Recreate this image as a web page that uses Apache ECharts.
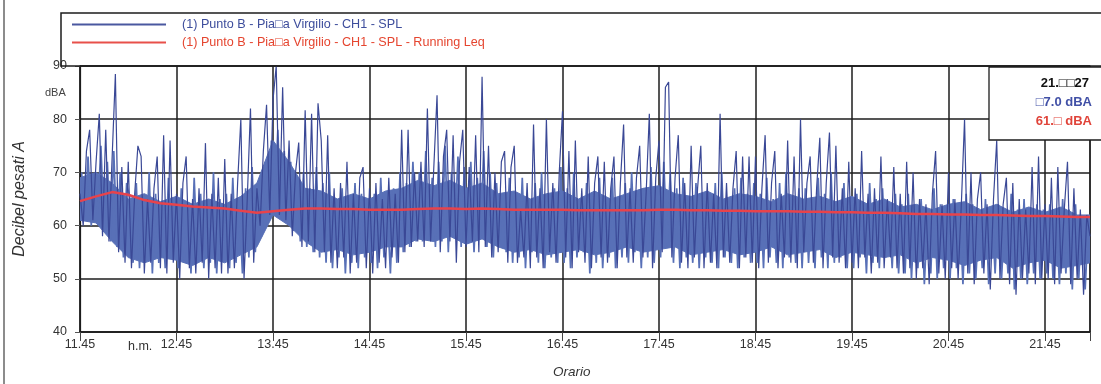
<!DOCTYPE html>
<html>
<head>
<meta charset="utf-8">
<script src="https://cdn.jsdelivr.net/npm/echarts@6/dist/echarts.min.js"></script>
<style>
html,body{margin:0;padding:0;background:#fff;}
#chart{width:1101px;height:384px;}
</style>
</head>
<body>
<div id="chart"></div>
<script>
// ---- DATA ----
const tickLabels = ['11.45','12.45','13.45','14.45','15.45','16.45','17.45','18.45','19.45','20.45','21.45'];
const seriesNames = ['(1) Punto B - Pia\u25A1a Virgilio - CH1 - SPL', '(1) Punto B - Pia\u25A1a Virgilio - CH1 - SPL - Running Leq'];
const endMinute = 628;            // minutes after 11.45 at the right edge
const splStepMin = 2;             // each SPL array: one sample every 2 minutes
const bandStepMin = 10;           // core band / Leq every 10 minutes

// SPL (dBA) at even minutes after 11.45 (0, 2, 4 ...)
const splEven = [
  66,60,74,78,61,72,81,58,78,57,73,88.5,55,71,53,
  72,52,66,75,73,51,65,53,67,73,52,77,51,76,53,
  66,50,68,73,52,65,51,67,53,75.5,50,66,52,69,51,
  72.5,51,66,52,68,80,50,65,82,53,67,60,74,82.7,62,
  83.6,90,62,86,61,76,58,70,75.6,56,81.7,57,81,55,83,
  76,55,77,53,67,52,68,54,72,51,66,53,69,71,52,
  67,51,68,53,65,52,69,54,66,53,78,55,78,56,70,
  57,72,56,82,57,71,84.5,55,73,78,57,77,53,72,78,
  56,71,57,77,55,88,56,75,54,70,55,72,74,53,71,
  75,53,63,54,68,52,79,54,67,52,80,55,68,53,70,
  81.5,54,74,52,76,55,67,53,73,52,68,73,54,72,53,
  67,73,52,68,79,54,67,53,69,75,54,66,81,52,69,
  76,55,86,87,54,69,77,53,68,52,75,54,67,75,52,
  68,53,66,52,81,54,68,53,67,74,52,73,54,73,53,
  73,52,67,77,53,68,74,52,66,54,76,53,73,52,80,
  55,68,73,53,67,76.5,52,68,77.5,54,75,53,67,52,72,
  53,67,52,74,54,66,51,67,53,73,52,65,54,71,52,
  66,51,72,52,70,50,65,52,64,49,66,74,51,64,50,
  70,52,65,50,64,80,51,70,49,65,70,51,64,48,65,
  76,50,64,69,49,68,47,65,50,63,51,71,49,73,50,
  64,50,69,49,71,51,63,72,49,67,50,63,47,62,58
];
// SPL (dBA) at odd minutes after 11.45 (1, 3, 5 ...)
const splOdd = [
  70,61,73,60,69,62,75,59,72,57,74,56,70,54,68,
  65,53,68,52,64,54,70,51,66,53,63,52,69,54,65,
  52,67,53,64,51,69,54,66,52,63,53,70,51,65,54,
  66,52,69,53,64,51,67,54,71,55,65,58,72,62,76,
  63,78,62,74,61,72,59,68,57,70,56,67,55,71,54,
  68,53,70,52,65,54,67,51,64,53,68,52,66,54,65,
  53,66,52,69,54,64,51,67,53,70,55,68,56,72,57,
  70,57,74,58,69,56,72,57,75,55,70,58,73,56,71,
  57,72,55,69,58,74,56,70,54,68,57,66,55,69,53,
  66,54,69,52,65,55,68,53,70,52,64,54,67,53,71,
  53,67,52,70,54,65,55,68,51,66,53,69,52,64,54,
  69,52,65,54,68,53,70,55,66,52,67,54,71,53,65,
  54,72,56,70,53,67,52,69,54,65,53,68,52,66,54,
  65,53,68,52,70,54,64,53,67,52,69,54,66,53,68,
  53,66,52,69,54,65,53,68,52,70,54,64,53,67,52,
  67,53,65,52,69,54,66,52,70,53,64,54,68,52,65,
  52,66,54,64,51,68,53,65,52,67,54,63,52,66,51,
  64,51,66,50,63,52,65,49,62,51,67,50,64,52,63,
  50,65,52,63,49,66,51,64,50,62,52,65,49,63,51,
  64,50,62,51,66,48,63,50,65,49,62,51,64,50,63,
  51,64,50,62,49,65,51,63,48,64,50,62,48,61
];

// dense core of the SPL trace (lower / upper edge), every 10 minutes, last at 628
const bandLow = [
  61,60.5,57,54,53,54,53.5,52.5,54,53,
  54.5,56,62,60,57,55,55.5,54.5,55,56,
  56,57.5,57,58,56.5,57.5,56,55,55.5,54.5,
  55,55.5,54.5,55,56,55,55.5,56,54.5,55,
  55.5,54.5,55,56,54.5,55,55.5,54,55,54.5,
  54,54.5,53,54,53.5,52.5,53.5,54,52,53,
  53.5,52,52.5,53
];
const bandHigh = [
  69,70,68,65,66,64.5,65.5,64,65,64,
  65.5,68,76,72,67,66.5,65,66,65,66.5,
  67,68.5,67.5,68.5,67,68,66,66.5,65,66,
  66.5,65,66.5,65,66,67,67.5,66,65.5,66.5,
  65,66,65.5,64.5,66,65,65.5,64.5,65.5,64,
  65,63.5,64,63,64,64.5,63,64,62.5,63.5,
  62.5,63.5,62,62
];

// Running Leq (dBA), every 10 minutes, last at 628
const leqValues = [
  64.6,65.5,66.3,65.8,64.8,64.2,63.9,63.6,63.4,63.2,62.8,62.4,62.7,63.0,63.2,63.2,63.1,63.1,63.0,63.0,
  63.0,63.1,63.2,63.2,63.1,63.2,63.1,63.0,63.0,63.0,63.0,62.9,62.9,62.9,62.9,62.9,63.0,63.0,62.9,62.9,
  62.8,62.8,62.7,62.7,62.7,62.6,62.6,62.5,62.5,62.4,62.4,62.3,62.2,62.2,62.1,62.1,62.0,62.0,61.9,61.8,
  61.8,61.7,61.6,61.6
];

const cursorTime = '21.\u25A1\u25A127';
const cursorSpl = '\u25A17.0 dBA';
const cursorLeq = '61.\u25A1 dBA';

// ---- BUILD ----
const splEvenData = splEven.map((v, i) => [i * splStepMin, v]);
const splOddData = splOdd.map((v, i) => [i * splStepMin + 1, v]);
const bandTime = i => Math.min(i * bandStepMin, endMinute);
const leqData = leqValues.map((v, i) => [bandTime(i), v]);
const bandData = bandLow.map((v, i) => [bandTime(i), v, bandHigh[i]]);

const BLUE = '#3a4896';
const BAND = '#5870b7';
const RED = '#e8434b';
const GRID = '#1c1c1c';
const FONT = 'Liberation Sans, Arial, sans-serif';

function renderBand(params, api) {
  if (params.dataIndex !== 0) return null;
  const top = bandData.map(d => api.coord([d[0], d[2]]));
  const bottom = bandData.map(d => api.coord([d[0], d[1]])).reverse();
  return {
    type: 'polygon',
    shape: {points: top.concat(bottom)},
    style: {fill: BAND, stroke: BAND, lineWidth: 1}
  };
}

const chart = echarts.init(document.getElementById('chart'), null, {renderer: 'canvas'});
chart.setOption({
  animation: false,
  backgroundColor: '#ffffff',
  grid: {left: 80, right: 11, top: 66, bottom: 52, show: true, borderColor: GRID, borderWidth: 1.2, backgroundColor: 'transparent'},
  legend: {
    data: [
      {name: seriesNames[0], textStyle: {color: '#3d4d9c'}, itemStyle: {color: '#4a58a0'}},
      {name: seriesNames[1], textStyle: {color: '#e5452f'}, itemStyle: {color: '#e8504a'}}
    ],
    orient: 'vertical', left: 67, top: 13, itemWidth: 94, itemHeight: 2, itemGap: 5,
    icon: 'rect',
    selectedMode: false,
    textStyle: {fontFamily: FONT, fontSize: 12.6, padding: [0, 0, 0, 11]}
  },
  xAxis: {
    type: 'value', min: 0, max: endMinute, interval: 60,
    axisLine: {show: true, onZero: false, lineStyle: {color: GRID, width: 1.5}},
    axisTick: {show: true, length: 9, lineStyle: {color: '#444', width: 1}},
    axisLabel: {color: '#333', fontFamily: FONT, fontSize: 12.5, margin: 6,
      formatter: v => (v % 60 === 0 && tickLabels[v / 60] !== undefined) ? tickLabels[v / 60] : ''},
    splitLine: {show: true, lineStyle: {color: GRID, width: 1.5}}
  },
  yAxis: {
    type: 'value', min: 40, max: 90, interval: 10,
    name: 'Decibel pesati A', nameLocation: 'middle', nameGap: 52, nameRotate: 90,
    nameTextStyle: {fontFamily: FONT, fontSize: 16, fontStyle: 'italic', color: '#333'},
    axisLine: {show: true, lineStyle: {color: GRID, width: 1.2}},
    axisTick: {show: true, length: 5, lineStyle: {color: '#555'}},
    axisLabel: {color: '#333', fontFamily: FONT, fontSize: 12.5, margin: 13},
    splitLine: {show: true, lineStyle: {color: GRID, width: 1.5}}
  },
  series: [
    {name: 'core', type: 'custom', data: [[0, 0]], renderItem: renderBand, silent: true, z: 2, clip: true},
    {name: seriesNames[0], type: 'line', data: splOddData, symbol: 'none', showSymbol: false,
      lineStyle: {color: BAND, width: 1.7}, itemStyle: {color: BLUE}, z: 3},
    {name: seriesNames[0], type: 'line', data: splEvenData, symbol: 'none', showSymbol: false,
      lineStyle: {color: BLUE, width: 1.2}, itemStyle: {color: BLUE}, z: 3},
    {name: seriesNames[1], type: 'line', data: leqData, symbol: 'none', showSymbol: false,
      lineStyle: {color: RED, width: 2.5}, itemStyle: {color: RED}, z: 4}
  ],
  graphic: [
    {type: 'line', shape: {x1: 4, y1: 0, x2: 4, y2: 384}, style: {stroke: '#666', lineWidth: 1.5}, z: 50},
    {type: 'rect', shape: {x: 61, y: 13, width: 1045, height: 53}, style: {fill: 'none', stroke: GRID, lineWidth: 1.5}, z: 50},
    {type: 'rect', shape: {x: 989, y: 67, width: 120, height: 73}, style: {fill: '#fff', stroke: GRID, lineWidth: 1.3}, z: 60},
    {type: 'text', right: 12, top: 77, style: {text: cursorTime, fill: '#111', font: 'bold 13px ' + FONT, textAlign: 'right'}, z: 61},
    {type: 'text', right: 9, top: 96, style: {text: cursorSpl, fill: '#4150a6', font: 'bold 13px ' + FONT, textAlign: 'right'}, z: 61},
    {type: 'text', right: 9, top: 115, style: {text: cursorLeq, fill: '#e0443a', font: 'bold 13px ' + FONT, textAlign: 'right'}, z: 61},
    {type: 'text', left: 45, top: 87, style: {text: 'dBA', fill: '#444', font: '11px ' + FONT}, z: 61},
    {type: 'text', left: 128, top: 340, style: {text: 'h.m.', fill: '#333', font: '12.5px ' + FONT}, z: 61},
    {type: 'text', left: 553, top: 365, style: {text: 'Orario', fill: '#333', font: 'italic 13.5px ' + FONT}, z: 61}
  ]
});
</script>
</body>
</html>
